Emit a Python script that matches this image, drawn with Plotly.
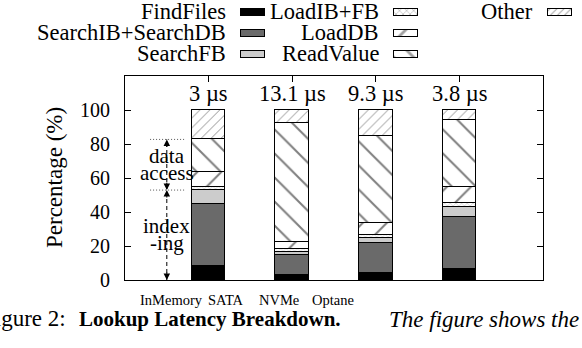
import plotly.graph_objects as go

# ---------------- data ----------------
categories = ["InMemory", "SATA", "NVMe", "Optane"]
latency_labels = ["3 µs", "13.1 µs", "9.3 µs", "3.8 µs"]
series_names = ["FindFiles", "SearchIB+SearchDB", "SearchFB",
                "LoadIB+FB", "LoadDB", "ReadValue", "Other"]
find_files = [8.2, 2.9, 4.3, 6.5]
search_ib_db = [36.5, 11.8, 17.3, 30.4]
search_fb = [8.2, 2.0, 2.9, 6.2]
load_ib_fb = [2.0, 1.3, 2.0, 2.4]
load_db = [8.8, 4.5, 6.8, 9.4]
read_value = [19.0, 69.7, 51.4, 39.2]
other = [17.3, 7.8, 15.3, 5.9]
y_ticks = [0, 20, 40, 60, 80, 100]
y_title = "Percentage (%)"
caption_fig = "Figure 2:"
caption_bold = "Lookup Latency Breakdown."
caption_italic = "The figure shows the"

series_values = [find_files, search_ib_db, search_fb, load_ib_fb,
                 load_db, read_value, other]

# ---------------- styles ----------------
W, H = 582, 348
FONT = "Liberation Serif, Times New Roman, serif"


def px(x):
    return x / W


def py(y):
    return 1 - y / H


styles = [
    dict(color="black", shape="", size=8),
    dict(color="#6a6a6a", shape="", size=8),
    dict(color="#cccccc", shape="", size=8),
    dict(color="white", shape="x", size=4),
    dict(color="white", shape="/", size=17),
    dict(color="white", shape="\\", size=17),
    dict(color="white", shape="/", size=7),
]
legend_sizes = [8, 8, 8, 5, 14, 14, 5]

fig = go.Figure()

for name, vals, st in zip(series_names, series_values, styles):
    fig.add_trace(go.Bar(
        x=categories, y=vals, name=name, width=0.4, showlegend=False,
        marker=dict(color=st["color"],
                    line=dict(color="black", width=1),
                    pattern=dict(shape=st["shape"], fgcolor="black",
                                 bgcolor=st["color"], size=st["size"],
                                 solidity=0.12)),
        xaxis="x", yaxis="y",
    ))

# ---------- custom legend (text left of swatch, gnuplot style) ----------
col_swatch_center = [252.5, 405.5, 559.5]
row_center = [12.5, 33.0, 54.0]
sw_w, sw_h = 24, 7
leg_x, leg_base = [], []
for i, name in enumerate(series_names):
    c, r = divmod(i, 3)
    leg_x.append(col_swatch_center[c])
    leg_base.append(row_center[r] - sw_h / 2)
    fig.add_annotation(
        xref="paper", yref="paper",
        x=px(col_swatch_center[c] - sw_w / 2 - 13), y=py(row_center[r] - 1),
        text=name, showarrow=False, xanchor="right", yanchor="middle",
        font=dict(family=FONT, size=22.5, color="black"))

fig.add_trace(go.Bar(
    x=leg_x, y=[sw_h] * len(leg_x), base=leg_base, width=sw_w,
    showlegend=False, hoverinfo="skip",
    marker=dict(color=[s["color"] for s in styles],
                line=dict(color="black", width=1),
                pattern=dict(shape=[s["shape"] for s in styles],
                             fgcolor="black",
                             bgcolor=[s["color"] for s in styles],
                             size=legend_sizes, solidity=0.2)),
    xaxis="x2", yaxis="y2",
))

# ---------------- latency labels ----------------
for cat, lab in zip(categories, latency_labels):
    fig.add_annotation(x=cat, y=110, xref="x", yref="y", text=lab,
                       showarrow=False, xanchor="center", yanchor="middle",
                       font=dict(family=FONT, size=22.5, color="black"))

# ---------------- x category labels ----------------
xlabel_px = [171, 226, 279, 333]
for cat, xp in zip(categories, xlabel_px):
    fig.add_annotation(xref="paper", yref="paper", x=px(xp), y=py(300),
                       text=cat, showarrow=False, xanchor="center",
                       yanchor="middle",
                       font=dict(family=FONT, size=14.5, color="black"))

# ---------------- y title ----------------
fig.add_annotation(xref="paper", yref="paper", x=px(54), y=py(178),
                   text=y_title, textangle=-90, showarrow=False,
                   xanchor="center", yanchor="middle",
                   font=dict(family=FONT, size=23, color="black"))

# ---------------- indexing / data access markers ----------------
idx_top = find_files[0] + search_ib_db[0] + search_fb[0]
access_top = idx_top + load_ib_fb[0] + load_db[0] + read_value[0]
xa = -0.5
for yv in (idx_top, access_top):
    fig.add_shape(type="line", xref="x", yref="y", x0=-0.70, x1=-0.28,
                  y0=yv, y1=yv, line=dict(color="#555555", width=1,
                                          dash="1px,2px"))
fig.add_shape(type="line", xref="x", yref="y", x0=xa, x1=xa, y0=0,
              y1=access_top, line=dict(color="black", width=1,
                                       dash="4px,3px"))
for tip, up in ((access_top, True), (idx_top, False), (idx_top, True),
                (0, False)):
    fig.add_annotation(x=xa, y=tip, xref="x", yref="y", text="",
                       showarrow=True, ax=0, ay=(9 if up else -9),
                       arrowhead=2, arrowsize=1.3, arrowwidth=1,
                       arrowcolor="black")
mid_access = (idx_top + access_top) / 2
mid_index = idx_top / 2
for txt, yv, sh in (("data", mid_access, 9), ("access", mid_access, -8),
                    ("index", mid_index, 9), ("-ing", mid_index, -8)):
    fig.add_annotation(x=xa, y=yv, xref="x", yref="y", text=txt,
                       yshift=sh, showarrow=False, xanchor="center",
                       yanchor="middle",
                       font=dict(family=FONT, size=21, color="black"))

# ---------------- caption ----------------
fig.add_annotation(xref="paper", yref="paper", x=px(68), y=py(318),
                   text=caption_fig, showarrow=False, xanchor="right",
                   yanchor="middle",
                   font=dict(family=FONT, size=23, color="black"))
fig.add_annotation(xref="paper", yref="paper", x=px(77), y=py(319),
                   text="<b>" + caption_bold + "</b>", showarrow=False,
                   xanchor="left", yanchor="middle",
                   font=dict(family=FONT, size=21, color="black"))
fig.add_annotation(xref="paper", yref="paper", x=px(387), y=py(319),
                   text="<i>" + caption_italic + "</i>", showarrow=False,
                   xanchor="left", yanchor="middle",
                   font=dict(family=FONT, size=23, color="black"))

axis_common = dict(showline=True, linecolor="black", linewidth=1,
                   mirror="allticks", ticks="inside", ticklen=6,
                   tickcolor="black", showgrid=False, zeroline=False,
                   automargin=False)

fig.update_layout(
    width=W, height=H,
    margin=dict(l=0, r=0, t=0, b=0, pad=0),
    paper_bgcolor="white", plot_bgcolor="rgba(0,0,0,0)",
    barmode="stack", bargap=0,
    showlegend=False,
    font=dict(family=FONT, size=20, color="black"),
    xaxis=dict(domain=[px(125), px(543)], range=[-1, 4], type="category",
               showticklabels=False, anchor="y", **axis_common),
    yaxis=dict(domain=[py(280), py(76)], range=[0, 120], tickvals=y_ticks,
               ticklabelstandoff=10, anchor="x",
               tickfont=dict(family=FONT, size=20, color="black"),
               **axis_common),
    xaxis2=dict(domain=[0, 1], range=[0, W], visible=False, anchor="y2",
                fixedrange=True),
    yaxis2=dict(domain=[0, 1], range=[H, 0], visible=False, anchor="x2",
                fixedrange=True),
)

fig.write_html("out.html",
               config={"displayModeBar": False},
               post_script="document.body.style.margin='0';"
                           "document.body.style.overflow='hidden';")
